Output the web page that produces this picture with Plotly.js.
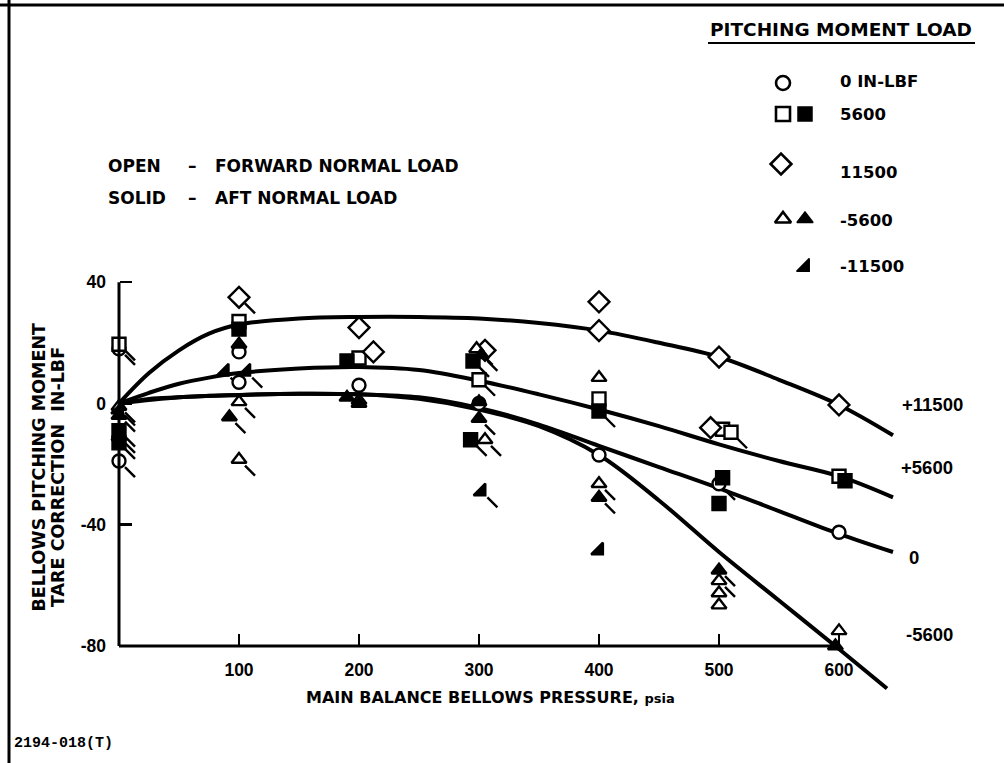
<!DOCTYPE html>
<html><head><meta charset="utf-8">
<script src="https://cdn.plot.ly/plotly-3.0.1.min.js"></script>
<style>html,body{margin:0;padding:0;background:#fff}</style>
</head><body><div id="chart" style="width:1004px;height:763px"></div>
<script>
// ---------- DATA ----------
const xTickVals = [100, 200, 300, 400, 500, 600];
const xTickText = ['100', '200', '300', '400', '500', '600'];
const yTickVals = [40, 0, -40, -80];
const yTickText = ['40', '0', '-40', '-80'];

// faired curves
const fitX      = [0, 25, 50, 75, 100, 150, 200, 250, 300, 350, 400, 450, 500, 550, 600, 645];
const fit11500  = [0, 10, 17.5, 23, 26, 28, 28.5, 28.5, 28, 26.5, 24, 20, 15.3, 7.8, -0.5, -10.5];
const fit5600   = [0, 3.5, 6.5, 8.5, 10, 11.5, 12, 11, 7.5, 3, -2, -7.5, -13.5, -19, -24, -31];
const fit0      = [0, 1.5, 2, 2.5, 2.8, 3.2, 3, 2, -1.5, -7, -14, -21, -28, -35.5, -43, -49];
const fitXm     = [0, 50, 100, 150, 200, 250, 300, 350, 400, 450, 500, 550, 600, 640];
const fitM5600  = [0, 2, 2.8, 3.2, 3, 1.5, -2, -7.5, -17, -32, -49, -65, -81, -94];
const fitLabels = ['+11500', '+5600', '0', '-5600'];

// measured points (flag: 1 = flagged symbol)
const openCircleX = [0, 0, 100, 100, 200, 300, 400, 500, 600];
const openCircleY = [18, -19, 17, 7, 6, 0, -17, -26.5, -42.5];
const openCircleF = [1, 1, 0, 0, 0, 0, 0, 1, 0];

const openSquareX = [0, 100, 200, 300, 400, 503, 510, 600];
const openSquareY = [19.5, 27, 15, 7.8, 1.5, -8.5, -9.5, -24];
const openSquareF = [1, 0, 0, 1, 0, 0, 1, 0];

const solidSquareX = [0, 0, 100, 190, 295, 293, 400, 503, 500, 605];
const solidSquareY = [-9, -13, 24.5, 14, 14, -12, -2.5, -24.5, -33, -25.5];
const solidSquareF = [1, 1, 0, 0, 1, 1, 1, 0, 0, 0];

const openDiamondX = [100, 200, 212, 305, 400, 400, 493, 500, 600];
const openDiamondY = [35, 25, 17, 17.5, 33.5, 24, -8, 15.3, -0.5];
const openDiamondF = [1, 0, 0, 0, 0, 0, 0, 0, 0];

const openTriX = [0, 100, 100, 200, 298, 305, 400, 400, 500, 500, 500, 600];
const openTriY = [-1, 0.5, -18.5, 1, 18, -12, 8.5, -26.5, -58.5, -62.5, -66.5, -75];
const openTriF = [1, 1, 1, 0, 1, 1, 0, 1, 1, 0, 0, 0];

const solidTriX = [0, 0, 100, 92, 190, 200, 302, 300, 300, 400, 500, 597];
const solidTriY = [-4, -11, 19.5, -4.5, 2, 0, 16, 0.5, -5, -31, -55, -80];
const solidTriF = [1, 1, 0, 1, 0, 0, 1, 0, 1, 1, 1, 0];

const halfTriX = [0, 88, 106, 302, 400];
const halfTriY = [-2, 10.5, 10.5, -29, -48.5];
const halfTriF = [1, 1, 1, 1, 0];

const legendTitle = 'PITCHING MOMENT LOAD';
const legendLabels = ['0 IN-LBF', '5600', '11500', '-5600', '-11500'];
const legendOpenSym = ['circle', 'square', 'diamond', 'triangle-up', null];
const legendSolidSym = [null, 'square', null, 'triangle-up', 'triangle-se'];
const keyWords = ['OPEN', 'SOLID'];
const keyDesc = ['FORWARD NORMAL LOAD', 'AFT NORMAL LOAD'];
const xTitle = 'MAIN BALANCE BELLOWS PRESSURE, ';
const xTitleUnit = 'psia';
const yTitle1 = 'BELLOWS PITCHING MOMENT';
const yTitle2 = 'TARE CORRECTION  IN-LBF';
const figId = '2194-018(T)';

// ---------- LAYOUT GEOMETRY ----------
const W = 1004, H = 763;
const L = 110, R = 911, T = 270, B = 700;
const xr = [-7.5, 660], yr = [-97.8, 44];
const pxX = (R - L) / (xr[1] - xr[0]);
const pxY = (B - T) / (yr[1] - yr[0]);
const PX = x => x / W, PY = y => 1 - y / H;
const xDom = [L / W, R / W], yDom = [(H - B) / H, (H - T) / H];
const xAxisPos = yDom[0] + (yDom[1] - yDom[0]) * (-80 - yr[0]) / (yr[1] - yr[0]);
const yAxisPos = xDom[0] + (xDom[1] - xDom[0]) * (0 - xr[0]) / (xr[1] - xr[0]);

const WORD = 'DejaVu Sans, sans-serif';
const NUM = 'Liberation Sans, Arial, sans-serif';
const MS = 13, MLW = 2.4;

const traces = [];
// curves
[[fitX, fit11500], [fitX, fit5600], [fitX, fit0], [fitXm, fitM5600]].forEach(c => {
  traces.push({x: c[0], y: c[1], mode: 'lines', line: {color: '#000', width: 4, shape: 'spline', smoothing: 1},
    hoverinfo: 'skip', showlegend: false});
});
// flags
const series = [
  [openCircleX, openCircleY, openCircleF, 'circle', false],
  [openSquareX, openSquareY, openSquareF, 'square', false],
  [openDiamondX, openDiamondY, openDiamondF, 'diamond', false],
  [openTriX, openTriY, openTriF, 'triangle-up', false],
  [solidSquareX, solidSquareY, solidSquareF, 'square', true],
  [solidTriX, solidTriY, solidTriF, 'triangle-up', true],
  [halfTriX, halfTriY, halfTriF, 'triangle-se', true]
];
const fx = [], fy = [];
const off = 11;
series.forEach(s => {
  s[0].forEach((x, i) => { if (s[2][i]) { fx.push(x + off / pxX); fy.push(s[1][i] - off / pxY); } });
});
traces.push({x: fx, y: fy, mode: 'markers', cliponaxis: false, hoverinfo: 'skip', showlegend: false,
  marker: {symbol: 'line-nw', size: 10, line: {color: '#000', width: 2.4}}});
series.forEach(s => {
  traces.push({x: s[0], y: s[1], mode: 'markers', cliponaxis: false, showlegend: false,
    marker: {symbol: s[3], size: s[3] === 'diamond' ? MS + 3 : MS, color: s[4] ? '#000' : '#fff',
      line: {color: '#000', width: MLW}}});
});

// legend key markers (on a pixel-mapped overlay axis pair)
const rowY = [83, 114, 164, 219, 267];
const labY = [82, 114, 172, 221, 267];
const openX = 783, solidX = 805;
legendLabels.forEach((lab, i) => {
  if (legendOpenSym[i]) traces.push({x: [openX - (legendOpenSym[i] === 'diamond' ? 2 : 0)], y: [rowY[i]], xaxis: 'x2', yaxis: 'y2',
    mode: 'markers', showlegend: false, hoverinfo: 'skip',
    marker: {symbol: legendOpenSym[i], size: legendOpenSym[i] === 'diamond' ? 16 : 14, color: '#fff', line: {color: '#000', width: 2.6}}});
  if (legendSolidSym[i]) traces.push({x: [solidX], y: [rowY[i]], xaxis: 'x2', yaxis: 'y2',
    mode: 'markers', showlegend: false, hoverinfo: 'skip',
    marker: {symbol: legendSolidSym[i], size: 14, color: '#000', line: {color: '#000', width: 1.5}}});
});

const ann = [];
const A = (text, x, y, o) => ann.push(Object.assign({text, x: PX(x), y: PY(y), xref: 'paper', yref: 'paper',
  xanchor: 'center', yanchor: 'middle', showarrow: false,
  font: {family: WORD, size: 17, color: '#000', weight: 'bold'}}, o || {}));

A(legendTitle, 841, 29, {font: {family: WORD, size: 18.5, color: '#000', weight: 'bold'}});
legendLabels.forEach((lab, i) => A(lab, 838, labY[i], {xanchor: 'left', font: {family: WORD, size: 16.5, color: '#000', weight: 'bold'}}));
keyWords.forEach((w, i) => {
  const y = 166 + i * 32;
  A(w, 106, y, {xanchor: 'left'});
  A('\u2013', 192, y, {xanchor: 'center'});
  A(keyDesc[i], 213, y, {xanchor: 'left'});
});
const fitLabPos = [[900, 404], [899, 468], [907, 557], [904, 634]];
fitLabels.forEach((t, i) => A(t, fitLabPos[i][0], fitLabPos[i][1], {xanchor: 'left',
  font: {family: NUM, size: 18.5, color: '#000', weight: 'bold'}}));
A(xTitle + '<span style="font-size:13px">' + xTitleUnit + '</span>', 490, 697, {font: {family: WORD, size: 16, color: '#000', weight: 'bold'}});
A(yTitle1, 38, 614, {textangle: -90, yanchor: 'bottom', font: {family: WORD, size: 17.5, color: '#000', weight: 'bold'}});
A(yTitle2, 58, 609, {textangle: -90, yanchor: 'bottom', font: {family: WORD, size: 17.5, color: '#000', weight: 'bold'}});
A(figId, 12, 743, {xanchor: 'left', font: {family: 'Liberation Mono, monospace', size: 15, color: '#000', weight: 'bold'}});

const shapes = [
  {type: 'line', xref: 'x', yref: 'y', x0: 0, x1: 600, y0: -80, y1: -80, line: {color: '#000', width: 3}},
  {type: 'line', xref: 'x', yref: 'y', x0: 0, x1: 0, y0: -80, y1: 40, line: {color: '#000', width: 3}},
  {type: 'line', xref: 'paper', yref: 'paper', x0: PX(708), x1: PX(975), y0: PY(43), y1: PY(43), line: {color: '#000', width: 2}},
  {type: 'line', xref: 'paper', yref: 'paper', x0: 0, x1: 1, y0: PY(5), y1: PY(5), line: {color: '#000', width: 3}},
  {type: 'line', xref: 'paper', yref: 'paper', x0: PX(9), x1: PX(9), y0: 0, y1: 1, line: {color: '#000', width: 3}}
];

const layout = {
  width: W, height: H, margin: {l: 0, r: 0, t: 0, b: 0},
  paper_bgcolor: '#fff', plot_bgcolor: 'rgba(0,0,0,0)', showlegend: false,
  xaxis: {domain: xDom, range: xr, anchor: 'free', position: xAxisPos, showgrid: false, zeroline: false, showline: false,
    tickmode: 'array', tickvals: xTickVals, ticktext: xTickText, ticks: 'inside', ticklen: 12, tickwidth: 2.5, tickcolor: '#000',
    ticklabelstandoff: 11, tickfont: {family: NUM, size: 17.5, color: '#000', weight: 'bold'}, fixedrange: true},
  yaxis: {domain: yDom, range: yr, anchor: 'free', position: yAxisPos, showgrid: false, zeroline: false, showline: false,
    tickmode: 'array', tickvals: yTickVals, ticktext: yTickText, ticks: 'inside', ticklen: 12, tickwidth: 2.5, tickcolor: '#000',
    ticklabelstandoff: 13, tickfont: {family: NUM, size: 17.5, color: '#000', weight: 'bold'}, fixedrange: true},
  xaxis2: {domain: [0, 1], range: [0, W], anchor: 'y2', visible: false, fixedrange: true},
  yaxis2: {domain: [0, 1], range: [H, 0], anchor: 'x2', visible: false, fixedrange: true},
  annotations: ann, shapes: shapes
};
Plotly.newPlot('chart', traces, layout, {staticPlot: true, displayModeBar: false});
</script></body></html>
